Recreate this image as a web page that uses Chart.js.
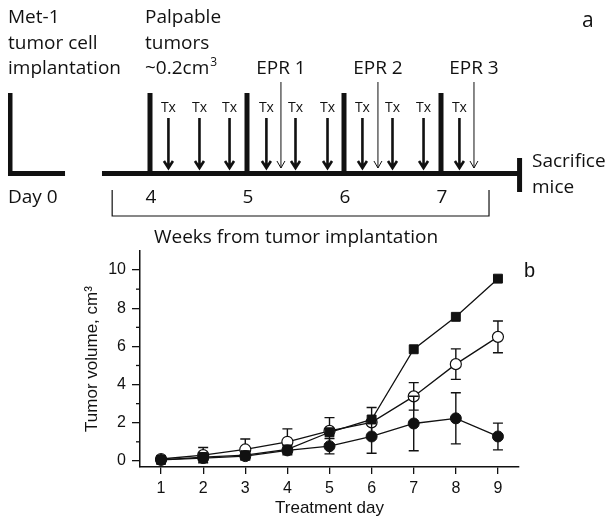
<!DOCTYPE html>
<html>
<head>
<meta charset="utf-8">
<script src="https://cdn.jsdelivr.net/npm/chart.js@4.4.0/dist/chart.umd.min.js"></script>
<style>
  html, body { margin: 0; padding: 0; background: #fff; }
  #wrap { position: relative; width: 612px; height: 527px; }
  #wrap canvas { position: absolute; left: 0; top: 0; }
</style>
</head>
<body>
<div id="wrap">
  <canvas id="timeline" width="612" height="250"></canvas>
  <canvas id="growth" width="612" height="527"></canvas>
</div>
<script>
// panel a: schedule, positions in weeks from implantation
const weekMarks = [4, 5, 6, 7];
const txTimes = [4.19, 4.51, 4.82, 5.2, 5.5, 5.83, 6.19, 6.5, 6.82, 7.19];
const eprTimes = [5.35, 6.35, 7.34];
const eprLabels = ["EPR 1", "EPR 2", "EPR 3"];
const sacrificeAt = 7.81;

// panel b: tumor volume (cm3) per treatment day
const days = ["1", "2", "3", "4", "5", "6", "7", "8", "9"];
const yTicks = [0, 2, 4, 6, 8, 10];
const yMinor = [1, 3, 5, 7, 9];
const squareMean = [0.05, 0.2, 0.3, 0.6, 1.5, 2.17, 5.85, 7.55, 9.55];
const openMean = [0.1, 0.3, 0.6, 1.0, 1.57, 2.02, 3.38, 5.07, 6.5];
const openErr = [0.1, 0.4, 0.55, 0.68, 0.7, 0.78, 0.72, 0.8, 0.83];
const filledMean = [0.05, 0.15, 0.25, 0.55, 0.77, 1.28, 1.96, 2.23, 1.28];
const filledErr = [0.05, 0.1, 0.15, 0.1, 0.4, 0.88, 1.43, 1.34, 0.7];

const INK = "#111";
const SANS = "'Open Sans', sans-serif";
const ARIAL = "'Liberation Sans', Arial, sans-serif";

// ---------- panel a ----------
const schedulePlugin = {
  id: "schedule",
  afterDraw(chart) {
    const ctx = chart.ctx;
    const px = (v) => chart.scales.x.getPixelForValue(v);
    ctx.save();
    ctx.fillStyle = INK;
    ctx.strokeStyle = INK;

    // day 0 marker
    ctx.fillRect(px(2.536), 93, 4.5, 83);
    ctx.fillRect(px(2.536), 171, px(3.124) - px(2.536), 5);

    // main line, week bars, end bar
    ctx.fillRect(px(3.505), 171, px(sacrificeAt) - px(3.505), 5);
    weekMarks.forEach((w) => ctx.fillRect(px(w) - 2.5, 93, 5, 83));
    ctx.fillRect(px(sacrificeAt) - 2.5, 158, 5, 34);

    // treatment arrows
    ctx.font = "14px " + SANS;
    ctx.textAlign = "center";
    ctx.textBaseline = "alphabetic";
    txTimes.forEach((t) => {
      const x = px(t);
      ctx.fillText("Tx", x, 112);
      ctx.lineWidth = 2.6;
      ctx.beginPath();
      ctx.moveTo(x, 118);
      ctx.lineTo(x, 168);
      ctx.moveTo(x - 4.5, 161);
      ctx.lineTo(x, 168);
      ctx.lineTo(x + 4.5, 161);
      ctx.stroke();
    });

    // EPR arrows
    ctx.font = "19px " + SANS;
    eprTimes.forEach((t, i) => {
      const x = px(t);
      ctx.fillText(eprLabels[i], x, 74);
      ctx.lineWidth = 1;
      ctx.beginPath();
      ctx.moveTo(x, 82);
      ctx.lineTo(x, 168);
      ctx.moveTo(x - 4, 161);
      ctx.lineTo(x, 168);
      ctx.lineTo(x + 4, 161);
      ctx.stroke();
    });

    // texts
    ctx.textAlign = "left";
    ["Met-1", "tumor cell", "implantation"].forEach((s, i) => ctx.fillText(s, 8, 23 + i * 25.5));
    ["Palpable", "tumors"].forEach((s, i) => ctx.fillText(s, 145, 23 + i * 25.5));
    ctx.fillText("~0.2cm", 145, 74);
    const w = ctx.measureText("~0.2cm").width;
    ctx.font = "12px " + SANS;
    ctx.fillText("3", 145 + w + 1, 66);
    ctx.font = "19px " + SANS;
    ctx.fillText("Sacrifice", 532, 167);
    ctx.fillText("mice", 532, 193);
    ctx.fillText("Day 0", 8, 203);
    ctx.font = "21px " + SANS;
    ctx.fillText("a", 582, 27);

    ctx.font = "19px " + SANS;
    ctx.textAlign = "center";
    weekMarks.forEach((wk) => ctx.fillText(String(wk), px(wk) + 1, 203));
    ctx.fillText("Weeks from tumor implantation", px(5.505), 243);

    // bracket
    ctx.lineWidth = 1.2;
    ctx.beginPath();
    ctx.moveTo(px(3.61), 190);
    ctx.lineTo(px(3.61), 216);
    ctx.lineTo(px(7.495), 216);
    ctx.lineTo(px(7.495), 190);
    ctx.stroke();
    ctx.restore();
  }
};

new Chart(document.getElementById("timeline"), {
  type: "scatter",
  data: { datasets: [] },
  options: {
    responsive: false,
    animation: false,
    layout: { padding: 0 },
    plugins: { legend: { display: false }, tooltip: { enabled: false } },
    scales: {
      x: { type: "linear", display: false, min: 4 - 150 / 97, max: 4 + 462 / 97 },
      y: { display: false, min: 0, max: 1 }
    }
  },
  plugins: [schedulePlugin]
});

// ---------- panel b ----------
const errorBars = {
  id: "errorBars",
  beforeDatasetDraw(chart, args) {
    const ds = chart.data.datasets[args.index];
    if (!ds.errors) return;
    const ctx = chart.ctx;
    const y = chart.scales.y;
    ctx.save();
    ctx.strokeStyle = INK;
    ctx.lineWidth = 1.4;
    args.meta.data.forEach((pt, i) => {
      const v = ds.data[i];
      const e = ds.errors[i];
      const top = y.getPixelForValue(v + e);
      const bot = y.getPixelForValue(v - e);
      ctx.beginPath();
      ctx.moveTo(pt.x, top);
      ctx.lineTo(pt.x, bot);
      ctx.moveTo(pt.x - 5, top);
      ctx.lineTo(pt.x + 5, top);
      ctx.moveTo(pt.x - 5, bot);
      ctx.lineTo(pt.x + 5, bot);
      ctx.stroke();
    });
    ctx.restore();
  }
};

const extras = {
  id: "extras",
  afterDraw(chart) {
    const ctx = chart.ctx;
    const y = chart.scales.y;
    ctx.save();
    ctx.strokeStyle = INK;
    ctx.lineWidth = 1.3;
    yMinor.forEach((v) => {
      const py = y.getPixelForValue(v);
      ctx.beginPath();
      ctx.moveTo(chart.chartArea.left - 4, py);
      ctx.lineTo(chart.chartArea.left, py);
      ctx.stroke();
    });
    ctx.fillStyle = INK;
    ctx.font = "20px " + ARIAL;
    ctx.fillText("b", 524, 277);
    ctx.restore();
  }
};

new Chart(document.getElementById("growth"), {
  type: "line",
  data: {
    labels: days,
    datasets: [
      {
        data: filledMean,
        errors: filledErr,
        borderColor: INK,
        borderWidth: 1.3,
        pointStyle: "circle",
        pointRadius: 5.5,
        pointBackgroundColor: INK,
        pointBorderColor: INK,
        pointBorderWidth: 1
      },
      {
        data: squareMean,
        borderColor: INK,
        borderWidth: 1.3,
        pointStyle: "rect",
        pointRadius: 6.3,
        pointBackgroundColor: INK,
        pointBorderColor: INK,
        pointBorderWidth: 1
      },
      {
        data: openMean,
        errors: openErr,
        borderColor: INK,
        borderWidth: 1.3,
        pointStyle: "circle",
        pointRadius: 5.5,
        pointBackgroundColor: "#fff",
        pointBorderColor: INK,
        pointBorderWidth: 1.2
      }
    ]
  },
  options: {
    responsive: false,
    animation: false,
    layout: { padding: { left: 82, top: 251, right: 93, bottom: 8 } },
    plugins: { legend: { display: false }, tooltip: { enabled: false } },
    scales: {
      x: {
        offset: true,
        grid: { offset: false, drawOnChartArea: false, tickLength: 7, color: INK, lineWidth: 1.3 },
        border: { color: INK, width: 1.5 },
        ticks: { color: INK, padding: 5, font: { family: ARIAL, size: 16 } },
        title: { display: true, text: "Treatment day", color: INK, padding: 0, font: { family: ARIAL, size: 17 } },
        afterFit(scale) { scale.height = 52; }
      },
      y: {
        min: -0.32,
        max: 11,
        afterBuildTicks(scale) { scale.ticks = yTicks.map((v) => ({ value: v })); },
        grid: { drawOnChartArea: false, tickLength: 8, color: INK, lineWidth: 1.3 },
        border: { color: INK, width: 1.5 },
        ticks: { color: INK, padding: 6, font: { family: ARIAL, size: 16 } },
        title: { display: true, text: "Tumor volume, cm\u00b3", color: INK, padding: 0, font: { family: ARIAL, size: 17 } },
        afterFit(scale) { scale.width = 58; }
      }
    }
  },
  plugins: [errorBars, extras]
});
</script>
</body>
</html>
